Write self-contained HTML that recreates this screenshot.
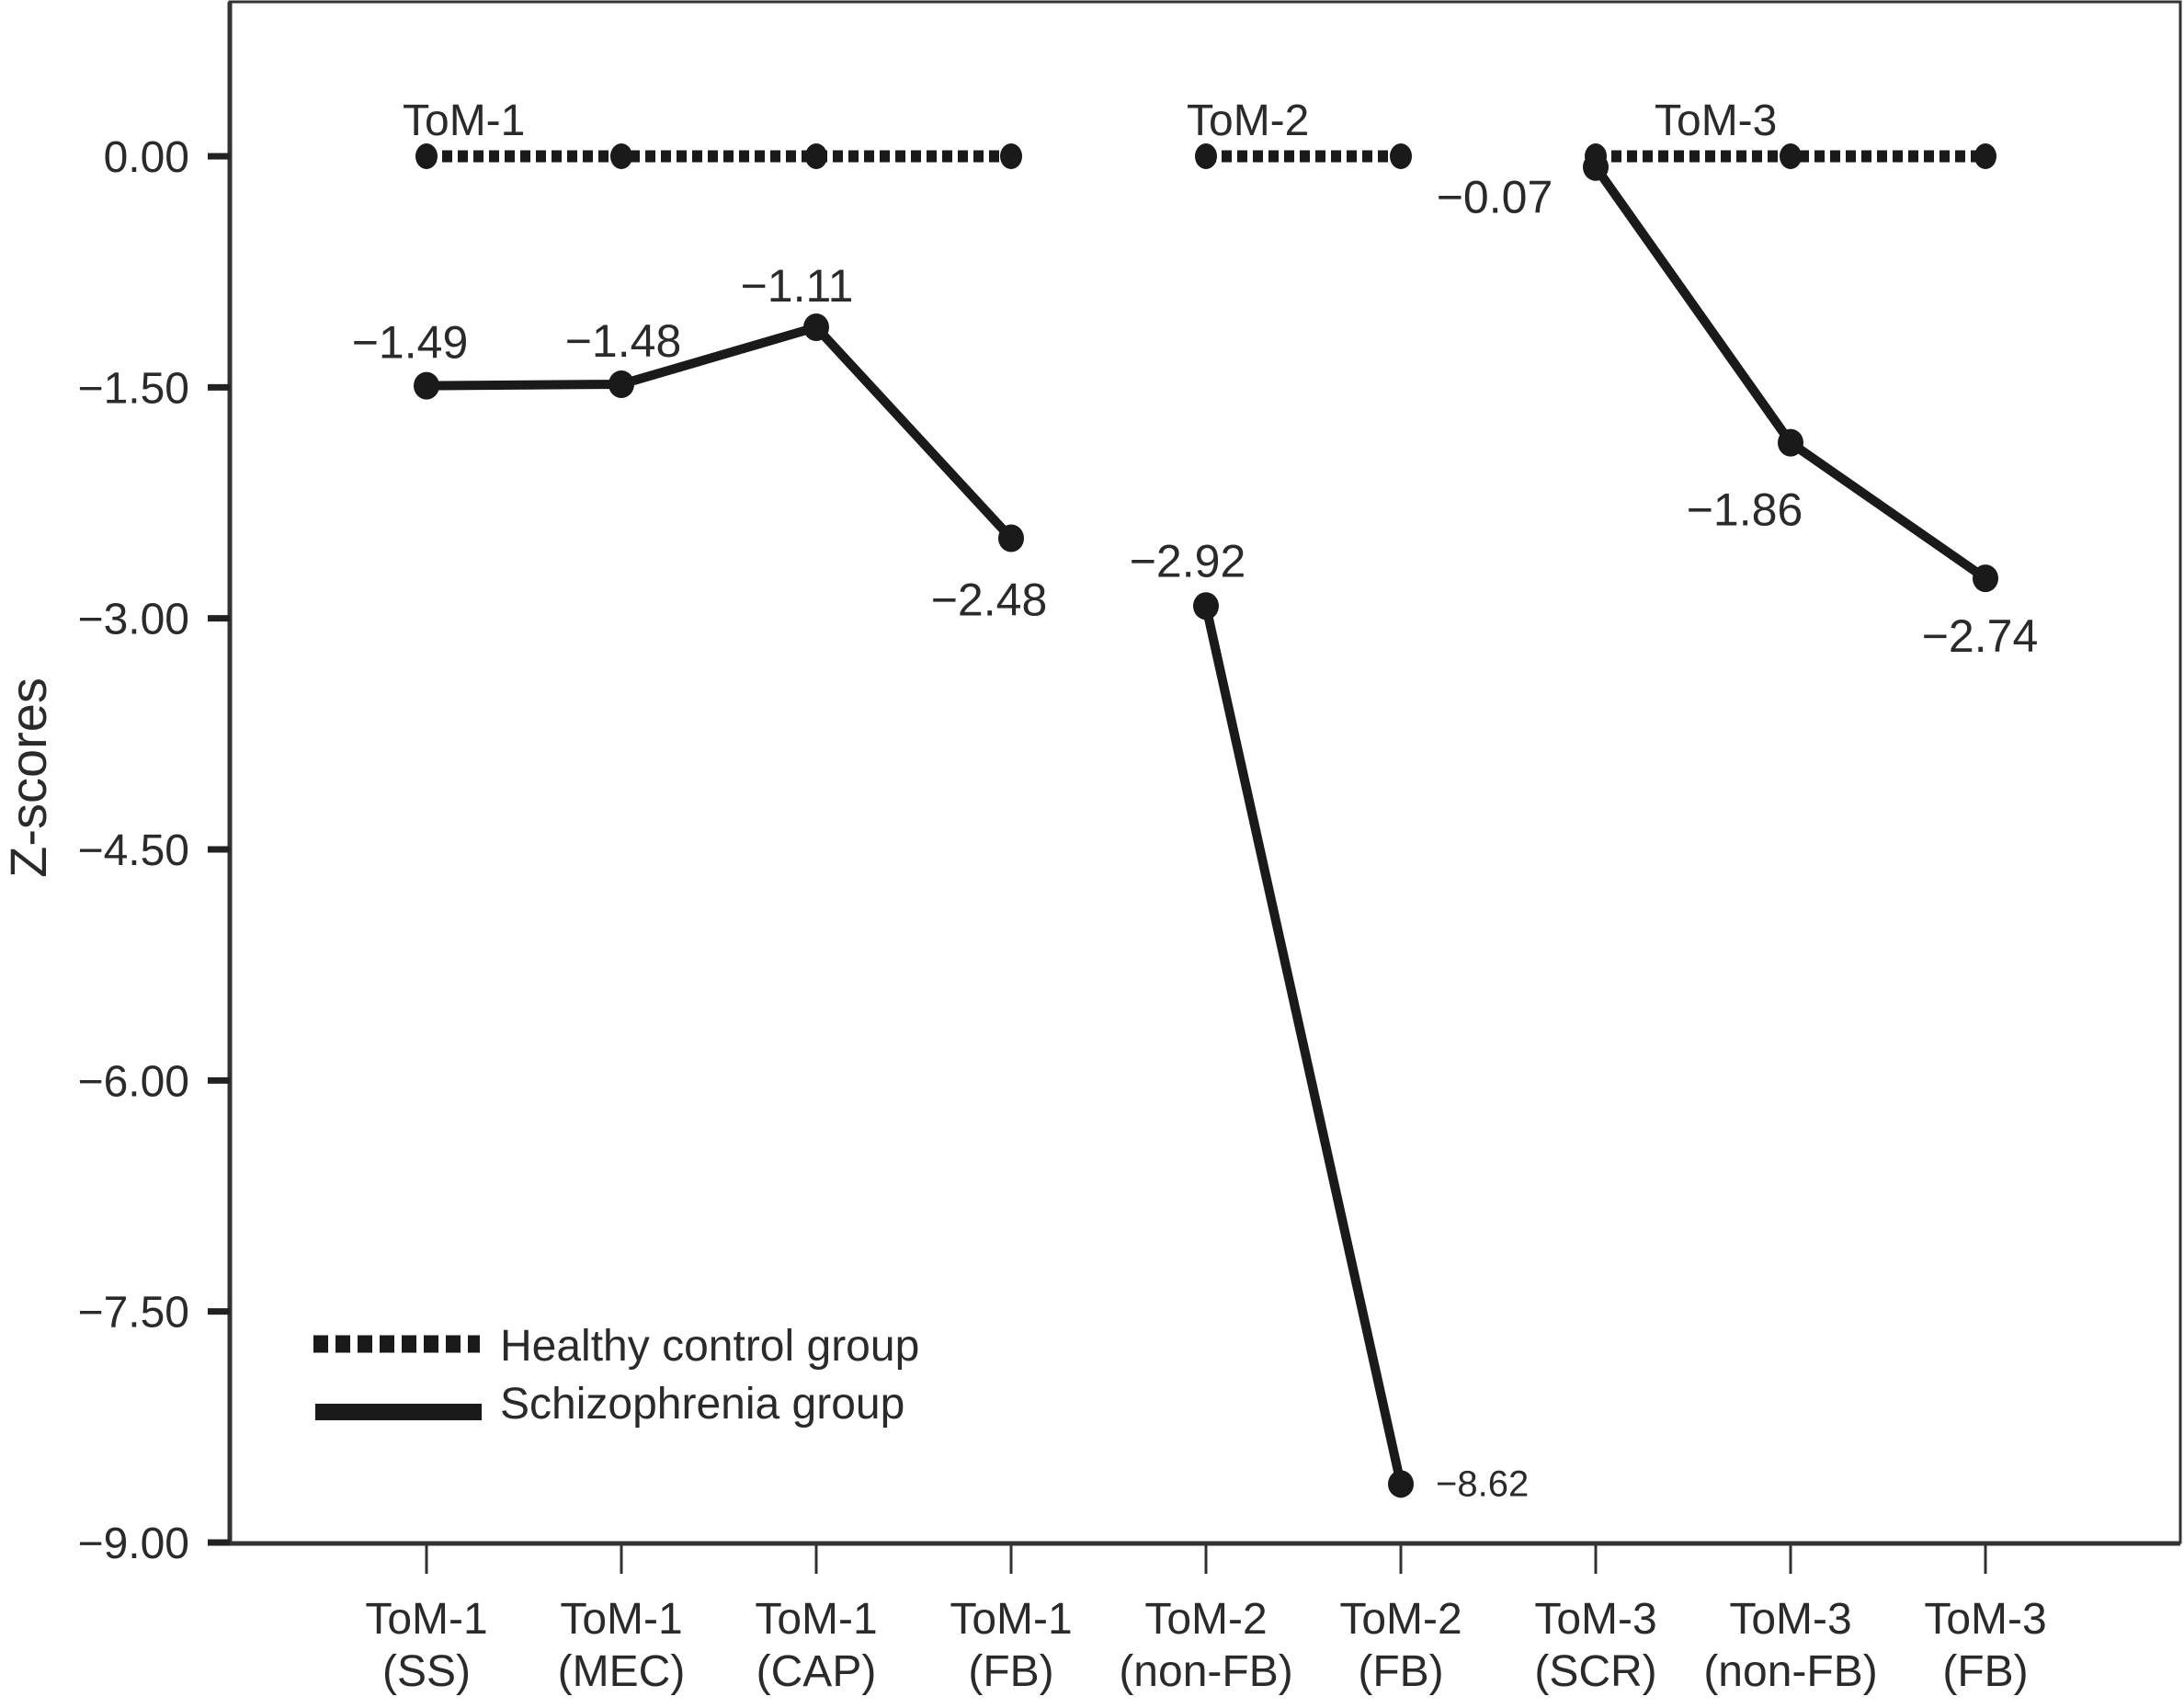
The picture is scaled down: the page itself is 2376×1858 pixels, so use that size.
<!DOCTYPE html>
<html><head><meta charset="utf-8"><style>
html,body{margin:0;padding:0;background:#fff;}
svg{display:block;}
text{font-family:"Liberation Sans",sans-serif;fill:#2a2a2a;}
</style></head><body>
<svg id="chart" width="2376" height="1858" viewBox="0 0 2376 1858" xmlns="http://www.w3.org/2000/svg">
<rect x="250" y="2" width="2122" height="1676" fill="#fff" stroke="#333" stroke-width="3"/>
<g id="yaxis"></g>
<g id="xaxis"></g>
<g id="series"></g>
<text x="50" y="846" font-size="56" text-anchor="middle" transform="rotate(-90 50 846)">Z-scores</text>
<g>
  <line x1="341" y1="1462" x2="522" y2="1462" stroke="#1a1a1a" stroke-width="19" stroke-dasharray="16 8"/>
  <text x="544" y="1480" font-size="48">Healthy control group</text>
  <line x1="343" y1="1536" x2="524" y2="1536" stroke="#1a1a1a" stroke-width="18"/>
  <text x="544" y="1543" font-size="48">Schizophrenia group</text>
</g>
</svg>
<script>
const categoriesTop = ["ToM-1","ToM-1","ToM-1","ToM-1","ToM-2","ToM-2","ToM-3","ToM-3","ToM-3"];
const categoriesBottom = ["(SS)","(MEC)","(CAP)","(FB)","(non-FB)","(FB)","(SCR)","(non-FB)","(FB)"];
const groups = [[0,1,2,3],[4,5],[6,7,8]];
const groupNames = ["ToM-1","ToM-2","ToM-3"];
const healthyValues = [0,0,0,0,0,0,0,0,0];
const schizoValues = [-1.49,-1.48,-1.11,-2.48,-2.92,-8.62,-0.07,-1.86,-2.74];
const schizoLabels = ["\u22121.49","\u22121.48","\u22121.11","\u22122.48","\u22122.92","\u22128.62","\u22120.07","\u22121.86","\u22122.74"];
const yTicks = [0,-1.5,-3,-4.5,-6,-7.5,-9];
const yTickLabels = ["0.00","\u22121.50","\u22123.00","\u22124.50","\u22126.00","\u22127.50","\u22129.00"];

const NS="http://www.w3.org/2000/svg";
function xs(i){return 464+i*212;}
function ys(v){return 170+(-v)*(1678-170)/9;}
function mk(tag,attrs,parent){const e=document.createElementNS(NS,tag);for(const k in attrs)e.setAttribute(k,attrs[k]);parent.appendChild(e);return e;}
const yax=document.getElementById('yaxis'),xax=document.getElementById('xaxis'),ser=document.getElementById('series');
mk('line',{x1:250,y1:2,x2:250,y2:1680,stroke:'#333','stroke-width':5},yax);
mk('line',{x1:250,y1:1679,x2:2372,y2:1679,stroke:'#333','stroke-width':5},xax);
yTicks.forEach((v,i)=>{
  const t=mk('line',{x1:226,y1:ys(v),x2:250,y2:ys(v),stroke:'#222','stroke-width':7},yax);
  
  
  const l=mk('text',{x:206,y:ys(v)+17,'font-size':48,'text-anchor':'end'},yax);
  l.textContent=yTickLabels[i];
  
  
});
categoriesTop.forEach((c,i)=>{
  const t=mk('line',{x1:xs(i),y1:1679,x2:xs(i),y2:1712,stroke:'#333','stroke-width':3},xax);
  
  
  const a=mk('text',{x:xs(i),y:1777,'font-size':48,'text-anchor':'middle'},xax);
  a.textContent=c;
  
  
  const b=mk('text',{x:xs(i),y:1834,'font-size':48,'text-anchor':'middle'},xax);
  b.textContent=categoriesBottom[i];
  
  
});
const groupLabelPos=[[438,147],[1291,147],[1800,147]];
groupNames.forEach((g,i)=>{
  const t=mk('text',{x:groupLabelPos[i][0],y:groupLabelPos[i][1],'font-size':48},ser);
  t.textContent=g;
  
  
});
groups.forEach(idx=>{
  const hp=idx.map(i=>xs(i)+','+ys(healthyValues[i])).join(' ');
  const h=mk('polyline',{points:hp,fill:'none',stroke:'#1a1a1a','stroke-width':13,'stroke-dasharray':'11 6'},ser);
  
  
  const sp=idx.map(i=>xs(i)+','+ys(schizoValues[i])).join(' ');
  const s=mk('polyline',{points:sp,fill:'none',stroke:'#1a1a1a','stroke-width':10,'stroke-linejoin':'round'},ser);
  
  
});
healthyValues.forEach((v,i)=>{
  const c=mk('ellipse',{cx:xs(i),cy:ys(v),rx:12,ry:14,fill:'#1a1a1a'},ser);
  
  
});
const labOff=[[-18,-30,'middle'],[2,-30,'middle'],[-21,-28,'middle'],[-24,84,'middle'],[-20,-32,'middle'],[38,13,'start'],[-110,50,'middle'],[-50,90,'middle'],[-6,80,'middle']];
schizoValues.forEach((v,i)=>{
  const c=mk('ellipse',{cx:xs(i),cy:ys(v),rx:14,ry:15,fill:'#1a1a1a'},ser);
  
  
  const o=labOff[i];
  const t=mk('text',{x:xs(i)+o[0],y:ys(v)+o[1],'font-size':i===5?40:50,'text-anchor':o[2]},ser);
  t.textContent=schizoLabels[i];
  
  
});
</script>
</body></html>
